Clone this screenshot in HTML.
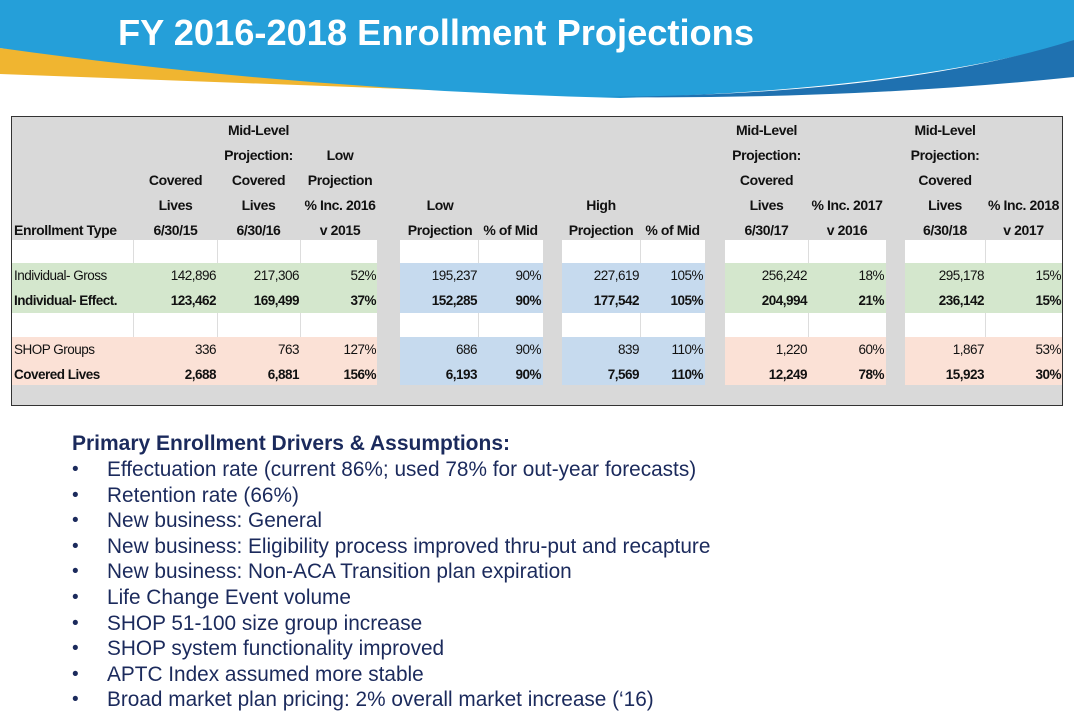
<!DOCTYPE html>
<html><head><meta charset="utf-8"><style>
body{margin:0;width:1074px;height:720px;background:#fff;position:relative;overflow:hidden;font-family:"Liberation Sans",sans-serif}
.t{position:absolute;border:1.5px solid #333;left:11px;top:116px;width:1052px;height:290px;background:#d9d9d9;box-sizing:border-box}
.b{position:absolute}
.h{position:absolute;font-weight:bold;font-size:14px;line-height:25px;text-align:center;color:#111;letter-spacing:-0.4px;white-space:nowrap}
.v{position:absolute;font-size:13.5px;line-height:25px;color:#111;letter-spacing:-0.5px;white-space:nowrap;text-align:right}
ul{position:absolute;left:72px;margin:0;padding:0;list-style:none;color:#1b2a5c;font-size:20.8px;line-height:25.6px}
li{padding-left:35px;position:relative}
li:before{content:"•";position:absolute;left:0;font-size:19px}
.hd{position:absolute;left:72px;top:432px;color:#1b2a5c;font-weight:bold;font-size:21px}
</style></head><body>
<svg width="1074" height="110" style="position:absolute;left:0;top:0">
<path d="M0 48 Q300 80 620 97 L0 74 Z" fill="#f0b530"/>
<path d="M0 0 H1074 V42 Q900 90 620 98 Q300 90 0 48 Z" fill="#259fd9"/>
<path d="M1074 40 Q900 95 600 97 Q850 100 1074 77 Z" fill="#1f71b0"/>
<text x="118" y="45" fill="#fff" font-size="36" font-weight="bold" font-family="Liberation Sans, sans-serif" textLength="636" lengthAdjust="spacingAndGlyphs">FY 2016-2018 Enrollment Projections</text>
</svg>
<div class="t"></div>
<div class="b" style="left:134px;top:240px;width:243px;height:23px;background:#fff"></div>
<div class="b" style="left:12px;top:240px;width:121px;height:23px;background:#fff"></div>
<div class="b" style="left:400px;top:240px;width:143px;height:23px;background:#fff"></div>
<div class="b" style="left:562px;top:240px;width:143px;height:23px;background:#fff"></div>
<div class="b" style="left:725px;top:240px;width:161px;height:23px;background:#fff"></div>
<div class="b" style="left:905px;top:240px;width:157px;height:23px;background:#fff"></div>
<div class="b" style="left:12px;top:313px;width:365px;height:24px;background:#fff"></div>
<div class="b" style="left:400px;top:313px;width:143px;height:24px;background:#fff"></div>
<div class="b" style="left:562px;top:313px;width:143px;height:24px;background:#fff"></div>
<div class="b" style="left:725px;top:313px;width:161px;height:24px;background:#fff"></div>
<div class="b" style="left:905px;top:313px;width:157px;height:24px;background:#fff"></div>
<div class="b" style="left:133px;top:240px;width:1px;height:97px;background:#ddd"></div>
<div class="b" style="left:217px;top:240px;width:1px;height:97px;background:#ddd"></div>
<div class="b" style="left:300px;top:240px;width:1px;height:97px;background:#ddd"></div>
<div class="b" style="left:478px;top:240px;width:1px;height:97px;background:#ddd"></div>
<div class="b" style="left:640px;top:240px;width:1px;height:97px;background:#ddd"></div>
<div class="b" style="left:808px;top:240px;width:1px;height:97px;background:#ddd"></div>
<div class="b" style="left:985px;top:240px;width:1px;height:97px;background:#ddd"></div>
<div class="b" style="left:12px;top:263px;width:365px;height:50px;background:#d4e7cd"></div>
<div class="b" style="left:725px;top:263px;width:161px;height:50px;background:#d4e7cd"></div>
<div class="b" style="left:905px;top:263px;width:157px;height:50px;background:#d4e7cd"></div>
<div class="b" style="left:12px;top:337px;width:365px;height:48px;background:#fbe1d6"></div>
<div class="b" style="left:725px;top:337px;width:161px;height:48px;background:#fbe1d6"></div>
<div class="b" style="left:905px;top:337px;width:157px;height:48px;background:#fbe1d6"></div>
<div class="b" style="left:400px;top:263px;width:143px;height:50px;background:#c6daee"></div>
<div class="b" style="left:562px;top:263px;width:143px;height:50px;background:#c6daee"></div>
<div class="b" style="left:400px;top:337px;width:143px;height:48px;background:#c6daee"></div>
<div class="b" style="left:562px;top:337px;width:143px;height:48px;background:#c6daee"></div>
<div class="h" style="left:14px;top:218px;text-align:left">Enrollment Type</div>
<div class="h" style="left:134px;top:168px;width:83px">Covered<br>Lives<br>6/30/15</div>
<div class="h" style="left:217px;top:118px;width:83px">Mid-Level<br>Projection:<br>Covered<br>Lives<br>6/30/16</div>
<div class="h" style="left:300px;top:143px;width:80px">Low<br>Projection<br>% Inc. 2016<br>v 2015</div>
<div class="h" style="left:400px;top:193px;width:80px">Low<br>Projection</div>
<div class="h" style="left:478px;top:218px;width:65px">% of Mid</div>
<div class="h" style="left:562px;top:193px;width:78px">High<br>Projection</div>
<div class="h" style="left:640px;top:218px;width:65px">% of Mid</div>
<div class="h" style="left:725px;top:118px;width:83px">Mid-Level<br>Projection:<br>Covered<br>Lives<br>6/30/17</div>
<div class="h" style="left:808px;top:193px;width:78px">% Inc. 2017<br>v 2016</div>
<div class="h" style="left:905px;top:118px;width:80px">Mid-Level<br>Projection:<br>Covered<br>Lives<br>6/30/18</div>
<div class="h" style="left:985px;top:193px;width:77px">% Inc. 2018<br>v 2017</div>
<div class="v" style="left:14px;top:263px;text-align:left">Individual- Gross<br><b>Individual- Effect.</b></div>
<div class="v" style="left:14px;top:337px;text-align:left">SHOP Groups<br><b>Covered Lives</b></div>
<div class="v" style="left:134px;top:263px;width:82px">142,896<br><b>123,462</b></div>
<div class="v" style="left:217px;top:263px;width:82px">217,306<br><b>169,499</b></div>
<div class="v" style="left:300px;top:263px;width:76px">52%<br><b>37%</b></div>
<div class="v" style="left:400px;top:263px;width:77px">195,237<br><b>152,285</b></div>
<div class="v" style="left:478px;top:263px;width:63px">90%<br><b>90%</b></div>
<div class="v" style="left:562px;top:263px;width:77px">227,619<br><b>177,542</b></div>
<div class="v" style="left:640px;top:263px;width:63px">105%<br><b>105%</b></div>
<div class="v" style="left:725px;top:263px;width:82px">256,242<br><b>204,994</b></div>
<div class="v" style="left:808px;top:263px;width:76px">18%<br><b>21%</b></div>
<div class="v" style="left:905px;top:263px;width:79px">295,178<br><b>236,142</b></div>
<div class="v" style="left:985px;top:263px;width:76px">15%<br><b>15%</b></div>
<div class="v" style="left:134px;top:337px;width:82px">336<br><b>2,688</b></div>
<div class="v" style="left:217px;top:337px;width:82px">763<br><b>6,881</b></div>
<div class="v" style="left:300px;top:337px;width:76px">127%<br><b>156%</b></div>
<div class="v" style="left:400px;top:337px;width:77px">686<br><b>6,193</b></div>
<div class="v" style="left:478px;top:337px;width:63px">90%<br><b>90%</b></div>
<div class="v" style="left:562px;top:337px;width:77px">839<br><b>7,569</b></div>
<div class="v" style="left:640px;top:337px;width:63px">110%<br><b>110%</b></div>
<div class="v" style="left:725px;top:337px;width:82px">1,220<br><b>12,249</b></div>
<div class="v" style="left:808px;top:337px;width:76px">60%<br><b>78%</b></div>
<div class="v" style="left:905px;top:337px;width:79px">1,867<br><b>15,923</b></div>
<div class="v" style="left:985px;top:337px;width:76px">53%<br><b>30%</b></div>
<div class="hd">Primary Enrollment Drivers &amp; Assumptions:</div>
<ul style="top:457px">
<li>Effectuation rate (current 86%; used 78% for out-year forecasts)</li>
<li>Retention rate (66%)</li>
<li>New business: General</li>
<li>New business: Eligibility process improved thru-put and recapture</li>
<li>New business: Non-ACA Transition plan expiration</li>
<li>Life Change Event volume</li>
<li>SHOP 51-100 size group increase</li>
<li>SHOP system functionality improved</li>
<li>APTC Index assumed more stable</li>
<li>Broad market plan pricing: 2% overall market increase (‘16)</li>
</ul>
</body></html>
